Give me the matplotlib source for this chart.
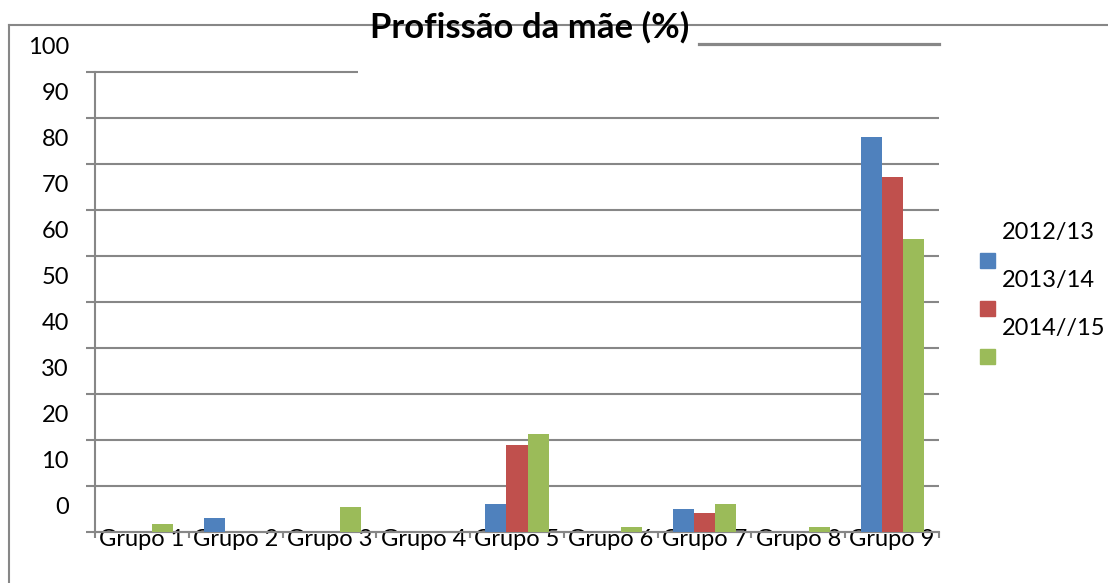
import matplotlib.pyplot as plt
import numpy as np
from matplotlib.lines import Line2D
from matplotlib.patches import Rectangle

plt.rcParams['font.family'] = ['Lato', 'DejaVu Sans']

groups = ['Grupo 1', 'Grupo 2', 'Grupo 3', 'Grupo 4', 'Grupo 5',
          'Grupo 6', 'Grupo 7', 'Grupo 8', 'Grupo 9']
years = ['2012/13', '2013/14', '2014//15']
v_2012 = [0, 3.0, 0, 0, 6.1, 0, 5.0, 0, 85.9]
v_2013 = [0, 0, 0, 0, 18.9, 0, 4.1, 0, 77.2]
v_2014 = [1.8, 0, 5.4, 0, 21.3, 1.0, 6.1, 1.0, 63.7]
y_ticks = list(range(0, 101, 10))
colors = ['#4f81bd', '#c0504d', '#9bbb59']

W, H = 1108, 583
fig = plt.figure(figsize=(W / 100, H / 100), dpi=100)
ax = fig.add_axes([95 / W, (H - 532) / H, (939 - 95) / W, (532 - 72) / H])

x = np.arange(len(groups))
bw = 0.224
for i, vals in enumerate([v_2012, v_2013, v_2014]):
    ax.bar(x + (i - 1) * bw, vals, width=bw, color=colors[i], zorder=3)

grey = '#878787'
left_ext = -0.5 - 9 / 93.8
ax.hlines(y_ticks[:-1], left_ext, 8.5, color=grey, lw=1.5, clip_on=False, zorder=1)
ax.hlines(100, left_ext, -0.5 + (358 - 95) / 93.8, color=grey, lw=1.5,
          clip_on=False, zorder=1)

for s in ['top', 'right']:
    ax.spines[s].set_visible(False)
for s in ['left', 'bottom']:
    ax.spines[s].set_color(grey)
    ax.spines[s].set_linewidth(1.5)

# y labels sit half a step above their lines, as in the original
ax.set_yticks([])
for v in y_ticks:
    ax.text(-26 / 844, v + 5.4, str(v), transform=ax.get_yaxis_transform(),
            ha='right', va='center', fontsize=17, clip_on=False)

ax.set_xticks(x)
ax.set_xticklabels(groups)
ax.set_xticks(np.arange(-0.5, 9, 1), minor=True)
ax.tick_params(axis='x', which='major', length=0, pad=-2, labelsize=17)
ax.tick_params(axis='x', which='minor', length=4.5, width=1.5, color=grey)

ax.set_xlim(-0.5, 8.5)
ax.set_ylim(0, 100)

# title and frame leftovers
fig.text(530 / W, (H - 38) / H, 'Profissão da mãe (%)', ha='center',
         va='baseline', fontsize=25, fontweight='bold')
fig.add_artist(Line2D([9 / W, 9 / W], [0, (H - 25) / H], color=grey, lw=1.5))
fig.add_artist(Line2D([9 / W, 1], [(H - 25) / H] * 2, color=grey, lw=1.5,
                      zorder=0))
fig.add_artist(Line2D([699 / W, 939 / W], [(H - 44) / H] * 2, color=grey, lw=2.3))

# legend, text drawn above its colour box
for i, lab in enumerate(years):
    yb = 253 + 48 * i
    fig.add_artist(Rectangle((980 / W, (H - yb - 15) / H), 15 / W, 15 / H,
                             color=colors[i], transform=fig.transFigure))
    fig.text(1002 / W, (H - (yb - 21)) / H, lab, ha='left', va='center',
             fontsize=17)

fig.savefig('out.png', dpi=100)
